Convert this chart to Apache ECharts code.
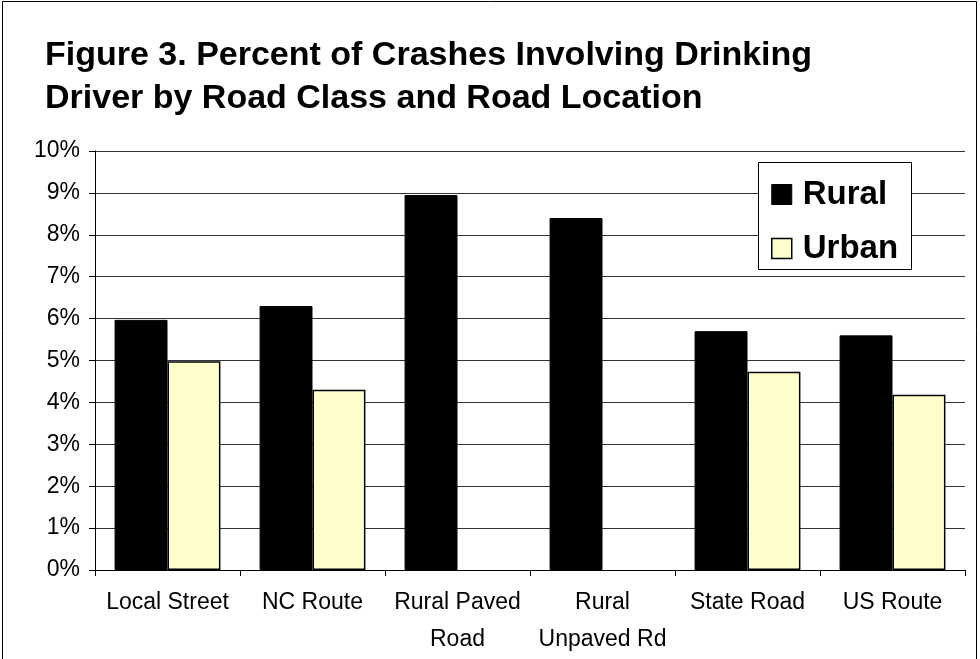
<!DOCTYPE html>
<html>
<head>
<meta charset="utf-8">
<script src="https://cdn.jsdelivr.net/npm/echarts@6/dist/echarts.min.js"></script>
<style>html,body{margin:0;padding:0;background:#fff}#c{width:980px;height:659px}</style>
</head>
<body>
<div id="c"></div>
<script>
const categories = ["Local Street", "NC Route", "Rural Paved\nRoad", "Rural\nUnpaved Rd", "State Road", "US Route"];
const ruralValues = [5.97, 6.3, 8.95, 8.4, 5.7, 5.6];
const urbanValues = [4.98, 4.3, null, null, 4.73, 4.18];
const seriesNames = ["Rural", "Urban"];
const titleText = "Figure 3. Percent of Crashes Involving Drinking\nDriver by Road Class and Road Location";

const FONT = '"Liberation Sans", Arial, sans-serif';
const chart = echarts.init(document.getElementById('c'), null, {renderer: 'canvas'});
chart.setOption({
  backgroundColor: '#fff',
  animation: false,
  title: {
    text: titleText,
    left: 45, top: 34, padding: 0,
    textStyle: {fontFamily: FONT, fontSize: 34, fontWeight: 'bold', color: '#000', lineHeight: 43}
  },
  graphic: [
    {type: 'rect', shape: {x: 2.5, y: 1.5, width: 974, height: 700}, style: {fill: 'none', stroke: '#000', lineWidth: 1}, z: 0, silent: true},
    {type: 'rect', shape: {x: 758.5, y: 162.5, width: 153, height: 107}, style: {fill: '#fff', stroke: '#000', lineWidth: 1}, z: 3, silent: true}
  ],
  legend: {
    orient: 'vertical',
    left: 771, top: 178, padding: 0,
    itemWidth: 20, itemHeight: 20, itemGap: 21,
    icon: 'rect',
    z: 5,
    data: [
      {name: seriesNames[0], itemStyle: {color: '#000', borderColor: '#000', borderWidth: 1}},
      {name: seriesNames[1], itemStyle: {color: '#FFFFCC', borderColor: '#000', borderWidth: 1.5}}
    ],
    textStyle: {fontFamily: FONT, fontSize: 33, fontWeight: 'bold', color: '#000', lineHeight: 20, padding: [0,0,0,6]}
  },
  grid: {left: 95, right: 15, top: 151, bottom: 89, containLabel: false},
  xAxis: {
    type: 'category',
    data: categories,
    axisLine: {lineStyle: {color: '#000', width: 1}},
    axisTick: {show: true, length: 6, lineStyle: {color: '#000'}},
    axisLabel: {fontFamily: FONT, fontSize: 23, color: '#000', lineHeight: 37, margin: 14, interval: 0}
  },
  yAxis: {
    type: 'value',
    min: 0, max: 10, interval: 1,
    axisLine: {show: true, lineStyle: {color: '#000', width: 1}},
    axisTick: {show: true, length: 6, lineStyle: {color: '#000'}},
    axisLabel: {fontFamily: FONT, fontSize: 23, color: '#000', margin: 15, formatter: v => v + '%'},
    splitLine: {show: true, lineStyle: {color: '#333', width: 1}}
  },
  series: [
    {name: seriesNames[0], type: 'bar', data: ruralValues, barGap: '0%', barCategoryGap: '27%',
     itemStyle: {color: '#000', borderColor: '#000', borderWidth: 1}},
    {name: seriesNames[1], type: 'bar', data: urbanValues,
     itemStyle: {color: '#FFFFCC', borderColor: '#000', borderWidth: 1.5}}
  ]
});
</script>
</body>
</html>
